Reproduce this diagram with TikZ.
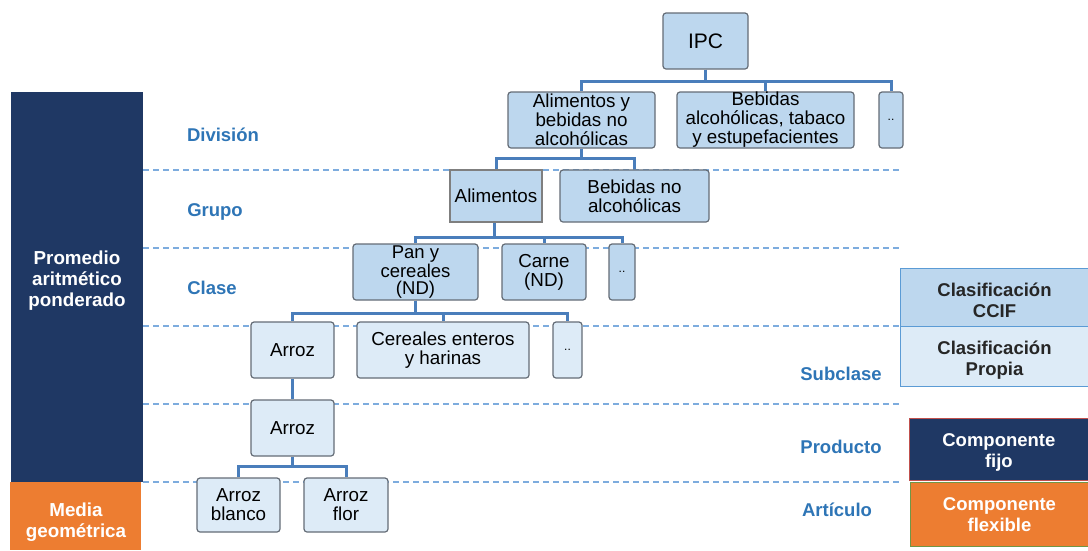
\documentclass[tikz,border=0pt]{standalone}
\usepackage{fontspec}
\setmainfont{Liberation Sans}
\definecolor{navy}{RGB}{31,56,100}
\definecolor{orng}{RGB}{237,125,49}
\definecolor{lbl}{RGB}{46,117,182}
\definecolor{fillA}{RGB}{189,215,238}
\definecolor{fillB}{RGB}{221,235,247}
\definecolor{connc}{RGB}{74,126,187}
\definecolor{dashc}{RGB}{125,172,222}
\definecolor{bord}{RGB}{100,108,118}
\definecolor{rbord}{RGB}{91,155,213}
\definecolor{redb}{RGB}{192,80,77}
\definecolor{greenb}{RGB}{112,150,70}
\definecolor{grayb}{RGB}{127,127,127}
\begin{document}
\begin{tikzpicture}[x=1pt,y=-1pt,
  every node/.style={font=\fontsize{18.8}{19}\selectfont, align=center, inner sep=0pt},
  boxA/.style={draw=bord, line width=1.2pt, fill=fillA, rounded corners=3pt},
  boxB/.style={draw=bord, line width=1.2pt, fill=fillB, rounded corners=3pt},
  conn/.style={draw=connc, line width=3pt},
  level/.style={draw=dashc, line width=1.3pt, dash pattern=on 6pt off 4pt},
  lab/.style={text=lbl, font=\fontsize{18.5}{20}\selectfont\bfseries},
  side/.style={text=white, font=\fontsize{18.8}{21}\selectfont\bfseries},
  legend/.style={font=\fontsize{18.5}{21}\selectfont\bfseries, text=black!85},
  legendw/.style={font=\fontsize{18.5}{21}\selectfont\bfseries, text=white}
]
\useasboundingbox (0,0) rectangle (1088,550);

% level separators
\foreach \yy in {170,248,326,404,482}{
  \coordinate (dl\yy) at (143,\yy);
  \coordinate (dr\yy) at (900,\yy);
  \draw[level] (dl\yy) -- (dr\yy);
}

% left bars
\node[fill=navy, minimum width=132, minimum height=390, anchor=north west] (bar1) at (11,92) {};
\node[side] (t1) at (77,281) {Promedio\\aritmético\\ponderado};
\node[fill=orng, minimum width=131, minimum height=68, anchor=north west] (bar2) at (10,482) {};
\node[side] (t2) at (76,522) {Media\\geométrica};

% level labels
\node[lab] (lDiv) at (223,135) {División};
\node[lab] (lGru) at (215,212) {Grupo};
\node[lab] (lCla) at (212,288) {Clase};
\node[lab] (lSub) at (841,374) {Subclase};
\node[lab] (lPro) at (841,447) {Producto};
\node[lab] (lArt) at (837,510) {Artículo};

% right legend
\node[draw=rbord, line width=1pt, fill=fillA, minimum width=188, minimum height=58, anchor=north west] (ccif) at (900,268) {};
\node[legend] (ccift) at ([yshift=-3]ccif.center) {Clasificación\\CCIF};
\node[draw=rbord, line width=1pt, fill=fillB, minimum width=188, minimum height=60, anchor=north west] (prop) at (900,326) {};
\node[legend] (propt) at ([yshift=-4]prop.center) {Clasificación\\Propia};
\node[draw=redb, line width=0.8pt, fill=navy, minimum width=179, minimum height=62, anchor=north west] (fijo) at (909,418) {};
\node[legendw] (fijot) at ([yshift=-3]fijo.center) {Componente\\fijo};
\node[draw=greenb, line width=1pt, fill=orng, minimum width=178, minimum height=64, anchor=north west] (flex) at (910,482) {};
\node[legendw] (flext) at (flex.center) {Componente\\flexible};

% tree nodes
\node[boxA, minimum width=85, minimum height=56, font=\fontsize{21}{22}\selectfont] (ipc) at (705.5,41) {IPC};
\node[boxA, minimum width=147, minimum height=56] (alb) at (581.5,120) {Alimentos y\\bebidas no\\alcohólicas};
\node[boxA, minimum width=177, minimum height=56] (bal) at (765.5,120) {Bebidas\\alcohólicas, tabaco\\y estupefacientes};
\node[boxA, minimum width=24, minimum height=56, font=\fontsize{12}{12}\selectfont] (d1) at (891,120) {..};

\node[draw=grayb, line width=2.2pt, fill=fillA, minimum width=92, minimum height=52] (ali) at (496,196) {Alimentos};
\node[boxA, minimum width=149, minimum height=52] (bna) at (634.5,196) {Bebidas no\\alcohólicas};

\node[boxA, minimum width=125, minimum height=56, font=\fontsize{18.5}{17}\selectfont] (pan) at (415.5,272) {Pan y\\cereales\\(ND)};
\node[boxA, minimum width=84, minimum height=56] (car) at (544,272) {Carne\\(ND)};
\node[boxA, minimum width=26, minimum height=56, font=\fontsize{12}{12}\selectfont] (d2) at (622,272) {..};

\node[boxB, minimum width=83, minimum height=56] (arr1) at (292.5,350) {Arroz};
\node[boxB, minimum width=172, minimum height=56] (cer) at (443,350) {Cereales enteros\\y harinas};
\node[boxB, minimum width=29, minimum height=56, font=\fontsize{12}{12}\selectfont] (d3) at (567.5,350) {..};

\node[boxB, minimum width=83, minimum height=56] (arr2) at (292.5,428) {Arroz};

\node[boxB, minimum width=83, minimum height=54] (bla) at (238.5,505) {Arroz\\blanco};
\node[boxB, minimum width=84, minimum height=54] (flo) at (346,505) {Arroz\\flor};

% connectors
\foreach \c in {alb,bal,d1}{\draw[conn] (ipc.south) -- ++(0,12) -| (\c.north);}
\foreach \c in {ali,bna}{\draw[conn] (alb.south) -- ++(0,10) -| (\c.north);}
\foreach \c in {pan,car,d2}{\draw[conn] ([xshift=-2]ali.south) -- ++(0,14) -| (\c.north);}
\foreach \c in {arr1,cer,d3}{\draw[conn] (pan.south) -- ++(0,13) -| (\c.north);}
\draw[conn] (arr1.south) -- (arr2.north);
\foreach \c in {bla,flo}{\draw[conn] (arr2.south) -- ++(0,10) -| (\c.north);}
\end{tikzpicture}
\end{document}
